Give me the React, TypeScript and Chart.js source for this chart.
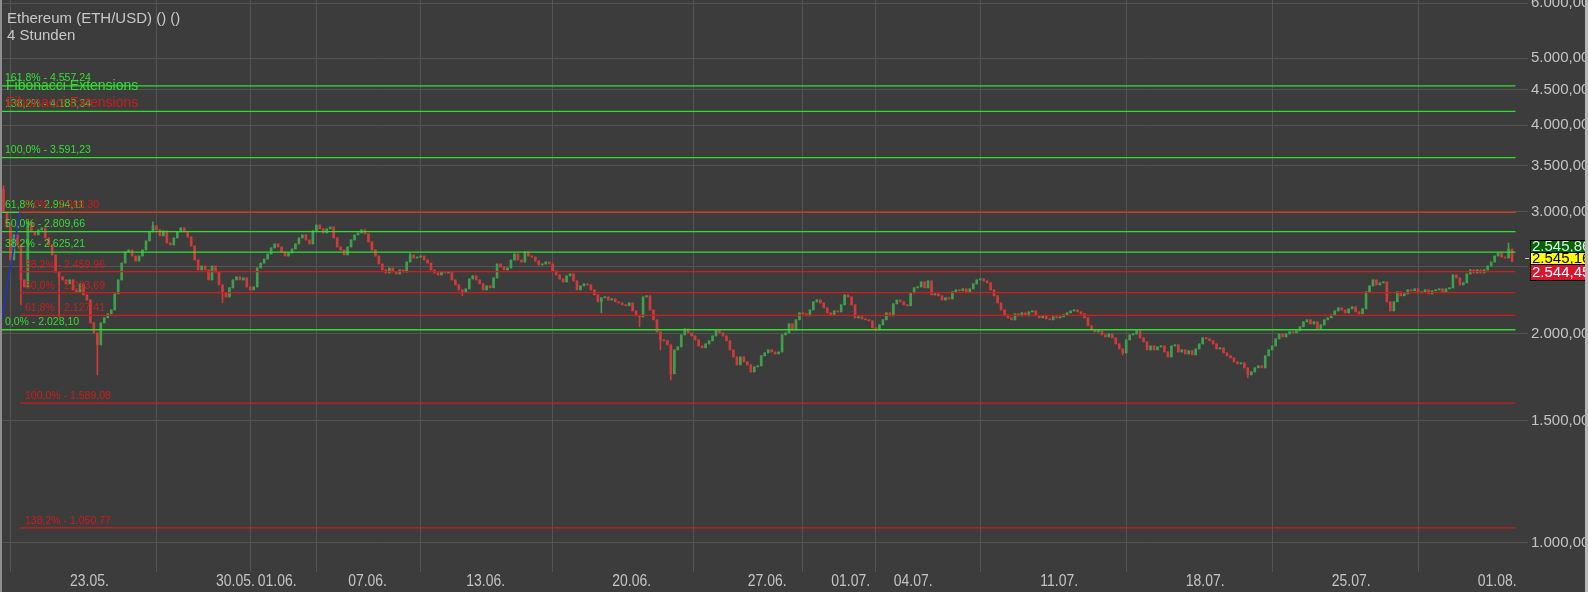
import React, { useEffect, useRef } from "react";
import { Chart, registerables } from "chart.js";

Chart.register(...registerables);

// ---- candle data (4h closes; open = previous close) ----
const firstOpen = 3230;
const closesA = [
  2998, 2853, 2557, 2779, 2688, 2393, 2338, 2901, 2807, 2779,
  2825, 2844, 2751, 2688, 2600, 2457, 2417, 2393, 2362, 2393,
  2315, 2300, 2362, 2277, 2239, 2075, 2007, 1929, 2075, 2110,
  2138, 2166, 2285, 2393, 2531, 2626, 2643, 2591, 2548, 2591,
  2643, 2724, 2807, 2863, 2825, 2770, 2816, 2706, 2688, 2751,
];
const closesB = [
  2807, 2844, 2807, 2760, 2679, 2557, 2474, 2506, 2474, 2393,
  2506, 2457, 2354, 2292, 2262, 2331, 2393, 2417, 2393, 2409,
  2338, 2315, 2338, 2490, 2531, 2565, 2608, 2661, 2697, 2670,
  2626, 2591, 2617, 2652, 2697, 2751, 2779, 2733, 2697, 2816,
  2872, 2835, 2797, 2835, 2853, 2751, 2670, 2643, 2600, 2670,
];
const closesC = [
  2733, 2779, 2797, 2825, 2788, 2715, 2643, 2591, 2523, 2474,
  2449, 2490, 2457, 2441, 2474, 2457, 2540, 2600, 2574, 2582,
  2591, 2557, 2531, 2474, 2449, 2433, 2457, 2449, 2457, 2393,
  2354, 2315, 2300, 2323, 2401, 2425, 2393, 2362, 2315, 2346,
  2331, 2409, 2523, 2498, 2474, 2490, 2557, 2608, 2557, 2540,
];
const closesD = [
  2626, 2591, 2582, 2548, 2515, 2523, 2540, 2523, 2465, 2433,
  2401, 2377, 2425, 2441, 2385, 2315, 2346, 2362, 2354, 2315,
  2277, 2225, 2255, 2262, 2239, 2247, 2225, 2217, 2203, 2196,
  2217, 2159, 2124, 2117, 2262, 2270, 2166, 2096, 2014, 1961,
  1955, 1929, 1752, 1897, 1916, 1994, 2034, 2007, 1987, 1961,
];
const closesE = [
  1922, 1910, 1935, 1955, 1987, 2027, 2007, 1987, 1955, 1897,
  1853, 1805, 1853, 1823, 1805, 1763, 1793, 1799, 1860, 1878,
  1897, 1884, 1872, 1884, 1994, 2007, 2068, 2027, 2096, 2145,
  2138, 2124, 2166, 2225, 2239, 2217, 2181, 2145, 2131, 2159,
  2152, 2203, 2277, 2262, 2203, 2110, 2117, 2103, 2096, 2089,
];
const closesF = [
  2041, 2027, 2061, 2096, 2145, 2124, 2210, 2239, 2225, 2203,
  2196, 2292, 2331, 2338, 2377, 2331, 2385, 2277, 2285, 2270,
  2239, 2255, 2247, 2300, 2315, 2308, 2323, 2300, 2323, 2362,
  2393, 2401, 2385, 2370, 2315, 2270, 2217, 2166, 2131, 2110,
  2096, 2138, 2124, 2145, 2124, 2152, 2159, 2124, 2110, 2124,
];
const closesG = [
  2103, 2096, 2117, 2110, 2117, 2131, 2145, 2159, 2166, 2152,
  2138, 2110, 2055, 2027, 2014, 2021, 1994, 1981, 2000, 1974,
  1935, 1903, 1878, 1961, 1994, 2000, 2021, 1974, 1948, 1897,
  1922, 1897, 1916, 1922, 1884, 1853, 1922, 1929, 1884, 1897,
  1872, 1891, 1866, 1903, 1935, 1974, 1968, 1955, 1935, 1903,
];
const closesH = [
  1910, 1878, 1860, 1847, 1823, 1811, 1817, 1787, 1746, 1763,
  1787, 1799, 1787, 1860, 1897, 1922, 1968, 2000, 1981, 2000,
  2014, 2007, 2021, 2048, 2082, 2096, 2068, 2082, 2034, 2061,
  2096, 2110, 2131, 2159, 2181, 2166, 2145, 2174, 2188, 2152,
  2138, 2174, 2300, 2346, 2393, 2354, 2370, 2377, 2225, 2159,
];
const closesI = [
  2225, 2300, 2270, 2285, 2315, 2308, 2323, 2292, 2300, 2315,
  2285, 2308, 2315, 2323, 2300, 2323, 2331, 2433, 2409, 2354,
  2370, 2441, 2474, 2449, 2474, 2449, 2474, 2506, 2540, 2591,
  2617, 2582, 2574, 2652, 2545.16,
];

// notable wicks: [candle index, price]
const wickHighs: [number, number][] = [[0, 3270], [43, 2901], [117, 2617], [433, 2706]];
const wickLows: [number, number][] = [
  [5, 2203], [16, 2117], [27, 1746], [63, 2217], [132, 2270], [172, 2145],
  [183, 2048], [189, 1897], [192, 1717], [322, 1866], [358, 1729],
];

// ---- axes ----
const dayTickIndex = [23, 65, 77, 103, 137, 179, 218, 242, 260, 302, 344, 386, 428];
const dayTickLabels = ["23.05.", "30.05.", "01.06.", "07.06.", "13.06.", "20.06.", "27.06.", "01.07.", "04.07.", "11.07.", "18.07.", "25.07.", "01.08."];
const priceTicks = [1000, 1500, 2000, 2500, 3000, 3500, 4000, 4500, 5000, 6000];

// ---- Fibonacci extensions ----
const greenRatios = ["0,0%", "38,2%", "50,0%", "61,8%", "100,0%", "138,2%", "161,8%"];
const greenLevels = [2028.10, 2625.21, 2809.66, 2994.11, 3591.23, 4188.34, 4557.24];
const redRatios = ["0,0%", "38,2%", "50,0%", "61,8%", "100,0%", "138,2%"];
const redLevels = [2998.30, 2459.96, 2293.69, 2127.41, 1589.08, 1050.77];
const greenStart = -1;
const redStart = 4.7;
const fibEnd = 435;
const anchorX = [-1, 4.7];
const anchorY = [2028.10, 2998.30];
const lastPrices = [2545.86, 2545.16, 2544.45];

const BG = "#3c3c3c";
const GRID = "#545454";
const TEXT = "#c4c4c4";
const UP = "#3f9f4c";
const DOWN = "#cf3a3a";
const FIB_GREEN = "#2fe02f";
const FIB_RED = "#d01c1c";
const FONT = '"Liberation Sans", Arial, sans-serif';

function fmt(v: number): string {
  const [i, d] = v.toFixed(2).split(".");
  return i.replace(/\B(?=(\d{3})+(?!\d))/g, ".") + "," + d;
}

export default function App() {
  const ref = useRef<HTMLCanvasElement>(null);

  useEffect(() => {
    const closes = [
      ...closesA, ...closesB, ...closesC, ...closesD, ...closesE,
      ...closesF, ...closesG, ...closesH, ...closesI,
    ];
    const opens = closes.map((c, i) => (i === 0 ? firstOpen : closes[i - 1]));
    const hiMap = new Map<number, number>(wickHighs);
    const loMap = new Map<number, number>(wickLows);
    const colors = closes.map((c, i) => (c >= opens[i] ? UP : DOWN));
    const bodies = closes.map((c, i) => ({ x: i, y: [Math.min(opens[i], c), Math.max(opens[i], c)] }));
    const wicks = closes.map((c, i) => ({
      x: i,
      y: [
        Math.min(opens[i], c, loMap.has(i) ? (loMap.get(i) as number) : Infinity),
        Math.max(opens[i], c, hiMap.has(i) ? (hiMap.get(i) as number) : -Infinity),
      ],
    }));

    const lineDs = (lvl: number, start: number, color: string, order: number) => ({
      type: "line" as const,
      data: [{ x: start, y: lvl }, { x: fibEnd, y: lvl }],
      borderColor: color,
      borderWidth: 1.3,
      pointRadius: 0,
      fill: false,
      tension: 0,
      order,
    });

    const overlay = {
      id: "overlay",
      beforeDraw(chart: any) {
        const { ctx, width, height } = chart;
        ctx.save();
        ctx.fillStyle = BG;
        ctx.fillRect(0, 0, width, height);
        ctx.restore();
      },
      afterDraw(chart: any) {
        const { ctx } = chart;
        const xs = chart.scales.x;
        const ys = chart.scales.y;
        ctx.save();

        // x-axis labels (narrow face)
        ctx.fillStyle = TEXT;
        ctx.font = `17px ${FONT}`;
        ctx.textAlign = "center";
        ctx.textBaseline = "alphabetic";
        dayTickIndex.forEach((v, k) => {
          const px = xs.getPixelForValue(v) + 6;
          ctx.save();
          ctx.translate(px, 586);
          ctx.scale(0.82, 1);
          ctx.fillText(dayTickLabels[k], 0, 0);
          ctx.restore();
        });

        // fib level labels
        ctx.textAlign = "left";
        ctx.textBaseline = "middle";
        ctx.font = `10.5px ${FONT}`;
        ctx.fillStyle = FIB_GREEN;
        greenLevels.forEach((lvl, k) => {
          ctx.fillText(`${greenRatios[k]} - ${fmt(lvl)}`, 5, ys.getPixelForValue(lvl) - 7.5);
        });
        ctx.fillStyle = FIB_RED;
        redLevels.forEach((lvl, k) => {
          ctx.fillText(`${redRatios[k]} - ${fmt(lvl)}`, 25, ys.getPixelForValue(lvl) - 7);
        });

        // title
        ctx.fillStyle = "#c8c8c8";
        ctx.font = `15px ${FONT}`;
        ctx.fillText("Ethereum (ETH/USD) () ()", 7, 19);
        ctx.fillText("4 Stunden", 7, 36);

        // indicator legends
        ctx.font = `14px ${FONT}`;
        ctx.fillStyle = FIB_GREEN;
        ctx.fillText("Fibonacci Extensions", 6, 86);
        ctx.fillStyle = FIB_RED;
        ctx.fillText("Fibonacci Extensions", 6, 103);

        // last price boxes
        const yc = ys.getPixelForValue(lastPrices[1]);
        const yTop = Math.round(yc - 9);
        const boxes = [
          { v: lastPrices[0], top: yTop - 12, h: 12, bg: "#006400", fg: "#e8e8e8" },
          { v: lastPrices[1], top: yTop, h: 12, bg: "#ffff00", fg: "#000000" },
          { v: lastPrices[2], top: yTop + 12, h: 16, bg: "#d8142e", fg: "#ffffff" },
        ];
        ctx.font = `15px ${FONT}`;
        boxes.forEach((b) => {
          ctx.fillStyle = b.bg;
          ctx.fillRect(1530, b.top, 58, b.h);
          ctx.strokeStyle = "#000000";
          ctx.lineWidth = 1;
          ctx.strokeRect(1530.5, b.top + 0.5, 58, b.h);
          ctx.fillStyle = b.fg;
          ctx.fillText(fmt(b.v), 1532, b.top + b.h / 2 + 1);
        });
        ctx.fillStyle = "#c8c8c8";
        ctx.fillRect(1525, Math.round(yc - 3), 4, 1);

        // frame strips
        ctx.fillStyle = "#8e8e8e";
        ctx.fillRect(0, 0, 2, chart.height);
        ctx.fillStyle = "#b8b8b8";
        ctx.fillRect(1585, 0, 3, chart.height);
        ctx.restore();
      },
    };

    const chart = new Chart(ref.current as HTMLCanvasElement, {
      type: "bar",
      data: {
        datasets: [
          ...redLevels.map((l) => lineDs(l, redStart, FIB_RED, 0)),
          {
            type: "line" as const,
            data: anchorX.map((x, k) => ({ x, y: anchorY[k] })),
            borderColor: "#2036c8",
            borderWidth: 1.5,
            pointRadius: 0,
            fill: false,
            order: 0,
          },
          ...greenLevels.map((l) => lineDs(l, greenStart, FIB_GREEN, 1)),
          {
            type: "bar" as const,
            data: bodies as any,
            backgroundColor: colors,
            barThickness: 2,
            minBarLength: 1,
            grouped: false,
            borderWidth: 0,
            order: 2,
          },
          {
            type: "bar" as const,
            data: wicks as any,
            backgroundColor: colors,
            barThickness: 1,
            grouped: false,
            borderWidth: 0,
            order: 3,
          },
        ] as any,
      },
      options: {
        animation: false,
        responsive: false,
        maintainAspectRatio: false,
        events: [],
        layout: { padding: { left: 2, top: 0, right: 0, bottom: 0 } },
        plugins: { legend: { display: false }, tooltip: { enabled: false } },
        scales: {
          x: {
            type: "linear",
            min: -0.43,
            max: 438.6,
            bounds: "data",
            offset: false,
            afterBuildTicks: (s: any) => {
              s.ticks = dayTickIndex.map((v) => ({ value: v }));
            },
            afterFit: (s: any) => {
              s.height = 30;
              s.paddingLeft = 0;
              s.paddingRight = 0;
            },
            grid: { color: GRID, lineWidth: 1, drawTicks: true, tickLength: 10, tickColor: GRID },
            border: { display: false },
            ticks: { display: false, autoSkip: false, maxRotation: 0 },
          },
          y: {
            type: "logarithmic",
            position: "right",
            min: 937.9,
            max: 6062,
            bounds: "data",
            afterBuildTicks: (s: any) => {
              s.ticks = priceTicks.map((v) => ({ value: v }));
            },
            afterFit: (s: any) => {
              s.width = 60;
              s.paddingTop = 0;
              s.paddingBottom = 0;
            },
            grid: { color: GRID, lineWidth: 1, drawTicks: false },
            border: { display: false },
            ticks: {
              autoSkip: false,
              padding: 3,
              color: TEXT,
              font: { family: FONT, size: 15 },
              callback: (v: any) => (Number(v) === 2500 ? "" : fmt(Number(v))),
            },
          },
        },
      } as any,
      plugins: [overlay],
    });

    return () => chart.destroy();
  }, []);

  return (
    <div style={{ position: "absolute", left: 0, top: 0, width: 1588, height: 592, background: BG }}>
      <canvas ref={ref} width={1588} height={592} style={{ display: "block" }} />
    </div>
  );
}
